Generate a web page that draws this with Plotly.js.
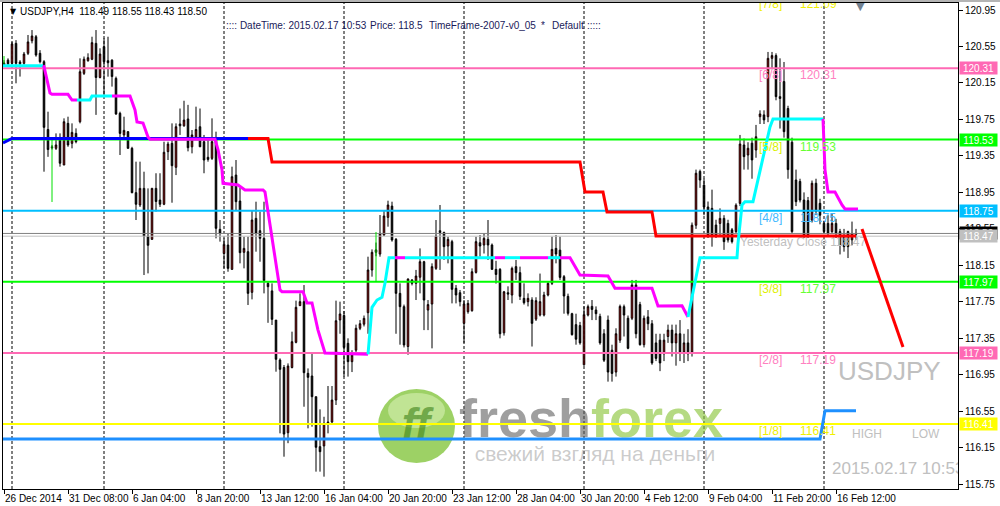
<!DOCTYPE html>
<html><head><meta charset="utf-8">
<script src="https://cdn.plot.ly/plotly-3.0.1.min.js"></script>
<style>html,body{margin:0;padding:0;background:#fff;}#chart{width:1000px;height:506px;}</style>
</head><body><div id="chart"></div>
<script>
// ---------------- DATA ----------------
const symbol = 'USDJPY,H4';
const opens = [120.35,120.40,120.365,120.584,120.38,120.365,120.475,120.613,120.657,120.475,
120.383,119.64,119.45,119.433,119.543,119.25,119.707,119.488,119.597,119.725,
120.255,120.394,120.41,120.584,120.21,120.548,120.394,120.40,120.20,119.817,
119.58,119.616,119.433,118.947,118.812,118.994,118.47,118.435,118.994,118.866,
118.82,119.397,119.488,119.225,119.70,119.68,119.755,119.45,119.532,119.67,
119.506,119.335,119.323,119.525,118.545,118.28,118.373,118.106,119.14,118.855,
118.293,118.30,117.854,118.665,118.53,118.446,117.953,117.87,117.55,117.112,
117.03,116.315,117.03,117.306,117.708,117.752,116.966,116.937,116.71,116.162,
116.17,116.42,116.432,116.673,117.551,117.60,117.295,117.094,117.22,117.46,
117.505,117.631,118.099,118.293,118.274,118.483,118.676,118.80,118.435,117.843,
117.697,117.26,117.989,117.953,118.02,118.19,117.66,117.726,118.117,118.53,
118.51,118.362,118.41,117.898,117.85,117.514,117.642,117.653,118.073,118.398,
118.373,118.435,118.373,118.106,118.106,117.41,117.85,117.825,118.136,118.07,
117.788,117.752,117.77,117.56,117.605,117.605,117.825,117.953,118.336,118.317,
118.026,117.81,117.62,117.50,117.49,117.06,117.605,117.70,117.66,117.59,
117.40,117.55,117.22,116.98,117.33,117.697,117.57,117.57,117.935,117.72,
117.28,117.585,117.51,117.30,117.33,117.18,117.37,117.44,117.30,117.40,
117.20,117.30,117.20,118.59,119.18,119.03,118.79,118.775,118.592,118.61,
118.665,118.61,118.54,118.52,118.83,119.47,119.36,119.49,119.415,119.78,
119.80,119.78,120.42,120.45,120.00,120.165,119.87,119.50,119.086,119.07,
118.866,118.86,118.647,119.05,118.83,118.61,118.61,118.52,118.61,118.52,
118.46,118.52,118.43,118.49];
const highs = [120.40,120.42,120.60,120.62,120.40,120.49,120.676,120.73,120.676,120.51,
120.40,119.835,119.47,119.597,119.597,119.762,119.78,119.707,119.652,120.42,
120.44,120.475,120.657,120.73,120.53,120.64,120.657,120.41,120.22,119.835,
119.78,119.62,119.45,119.287,119.287,119.177,118.994,119.0,119.16,119.16,
119.506,119.506,119.707,119.707,119.87,119.955,119.91,119.634,119.89,119.87,
119.58,119.525,119.762,119.616,118.647,118.446,118.50,119.232,119.305,119.0,
118.464,118.464,118.757,118.848,118.738,118.848,117.97,117.953,117.55,117.13,
117.057,117.075,117.423,117.763,117.843,117.934,117.02,117.192,116.71,116.571,
116.49,116.827,116.827,117.763,117.752,117.65,117.35,117.22,117.50,117.55,
117.60,118.245,118.325,118.40,118.702,118.757,118.859,118.848,118.45,117.953,
117.72,118.007,118.0,118.1,118.336,118.2,117.77,118.172,118.647,118.812,
118.52,118.464,118.43,117.934,117.88,117.77,117.77,118.117,118.464,118.483,
118.501,118.647,118.39,118.2,118.12,117.87,117.92,118.136,118.209,118.136,
117.953,117.843,117.80,117.80,118.06,117.86,117.97,118.464,118.483,118.464,
118.044,117.84,117.63,117.62,117.53,117.70,117.72,117.77,117.70,117.62,
117.45,117.60,117.28,117.46,117.72,117.72,117.60,117.99,117.99,117.75,
117.60,117.66,117.55,117.40,117.40,117.40,117.50,117.50,117.50,117.55,
117.40,117.45,118.62,119.20,119.20,119.10,118.85,118.98,118.65,118.775,
118.70,118.65,118.56,118.83,119.58,119.54,119.50,119.55,119.69,119.85,
119.85,120.49,120.49,120.475,120.42,120.38,119.90,119.55,119.20,119.10,
118.95,118.90,119.08,119.10,118.88,118.64,118.70,118.72,118.66,118.55,
118.55,118.53,118.63,118.55];
const lows = [120.33,120.33,120.35,120.146,120.22,120.35,120.456,120.584,120.438,120.365,
119.177,119.34,119.42,119.415,119.232,119.25,119.45,119.433,119.488,119.707,
120.237,120.383,120.40,119.80,120.20,120.0,120.219,120.11,119.80,119.36,
119.54,119.43,118.94,118.647,118.79,118.044,118.062,118.43,118.74,118.79,
118.81,119.305,118.837,119.14,119.58,119.67,119.40,119.378,119.525,119.45,
119.16,119.287,119.305,118.446,118.41,118.117,118.08,118.10,118.757,118.172,
118.117,117.715,117.777,118.30,118.19,117.843,117.52,117.496,116.984,116.308,
116.052,116.20,117.02,117.295,117.705,116.60,116.363,116.381,115.888,115.888,
115.833,116.308,116.42,116.619,117.40,116.93,116.93,116.98,117.20,117.44,
117.48,117.40,118.026,118.25,118.245,118.472,118.574,118.41,117.40,117.28,
117.25,117.17,117.93,117.77,117.843,117.44,117.44,117.24,118.1,118.1,
118.21,118.172,117.733,117.733,117.70,117.30,117.62,117.642,118.06,118.245,
118.28,118.209,118.1,117.95,117.35,117.38,117.77,117.733,117.99,117.77,
117.72,117.70,117.26,117.54,117.59,117.59,117.81,117.934,118.172,117.99,
117.62,117.60,117.38,117.28,117.28,117.05,117.59,117.55,117.55,117.28,
117.09,116.875,116.875,116.93,117.30,117.37,117.23,117.55,117.35,117.27,
117.25,117.44,117.06,117.10,116.99,117.10,117.30,117.15,117.05,117.10,
117.08,117.10,117.15,118.55,119.00,118.70,118.45,118.355,118.45,118.48,
118.32,118.40,118.39,118.50,118.80,119.20,119.20,119.10,119.33,119.70,
119.70,119.72,120.30,119.96,119.65,119.55,119.10,118.50,118.80,118.84,
118.45,118.45,118.62,118.70,118.60,118.50,118.48,118.50,118.45,118.27,
118.30,118.23,118.37,118.43];
const closes = [120.37,120.36,120.577,120.365,120.36,120.467,120.60,120.665,120.456,120.383,
119.663,119.42,119.44,119.47,119.27,119.725,119.47,119.608,119.506,120.273,
120.41,120.427,120.592,120.21,120.467,120.383,120.372,120.22,119.81,119.597,
119.63,119.433,118.947,118.82,118.994,118.47,118.37,118.994,118.85,118.82,
119.39,119.48,119.243,119.67,119.68,119.743,119.44,119.58,119.64,119.45,
119.305,119.312,119.506,118.556,118.50,118.38,118.117,119.122,118.848,118.289,
118.336,117.843,118.647,118.50,118.446,117.982,117.916,117.558,117.12,117.01,
116.30,117.046,117.313,117.69,117.752,116.973,116.922,116.71,116.155,116.107,
116.418,116.43,116.673,117.543,117.617,117.25,117.094,117.167,117.46,117.51,
117.569,118.099,118.293,118.32,118.501,118.691,118.812,118.428,117.843,117.697,
117.277,118.0,117.953,118.033,118.19,117.77,117.72,118.136,118.472,118.51,
118.355,118.435,117.887,117.825,117.752,117.726,117.733,118.08,118.41,118.362,
118.446,118.373,118.106,118.05,117.40,117.86,117.835,118.117,118.07,117.81,
117.74,117.788,117.514,117.763,117.752,117.825,117.953,118.325,118.274,118.018,
117.814,117.624,117.39,117.34,117.30,117.61,117.697,117.667,117.62,117.30,
117.11,116.98,116.965,117.40,117.70,117.605,117.24,117.935,117.40,117.28,
117.57,117.51,117.08,117.13,117.08,117.33,117.44,117.30,117.40,117.20,
117.30,117.18,118.59,119.16,119.085,118.79,118.48,118.48,118.48,118.665,
118.41,118.428,118.41,118.81,119.48,119.342,119.434,119.306,119.56,119.81,
119.745,120.42,120.45,120.00,119.98,119.616,119.20,118.52,118.848,118.866,
118.483,118.483,119.05,118.74,118.70,118.52,118.50,118.61,118.50,118.373,
118.355,118.355,118.50,118.50];

const xTickBars = [0,16,32,48,64,80,96,112,128,144,160,176,192,208];
const xTickLabels = ['26 Dec 2014','31 Dec 08:00','6 Jan 04:00','8 Jan 20:00','13 Jan 12:00','16 Jan 04:00',
  '20 Jan 20:00','23 Jan 12:00','28 Jan 04:00','30 Jan 20:00','4 Feb 12:00','9 Feb 04:00','11 Feb 20:00','16 Feb 12:00'];
const weekSeparators = [2,25,55,85,115,145,175,205];
const yTicks = [120.95,120.55,120.15,119.75,119.35,118.95,118.55,118.15,117.75,117.35,116.95,116.55,116.15,115.75];

const murreyNames = ['[7/8]','[6/8]','[5/8]','[4/8]','[3/8]','[2/8]','[1/8]'];
const murreyLevels = [121.09,120.31,119.53,118.75,117.97,117.19,116.41];
const lastPrice = 118.50;
const yesterdayClose = 118.47;

// trailing line (1 = cyan / up, 0 = magenta / down)
const trailBars = [-0.25,9.75,10,11.5,12,16,17,18.25,21.5,22,27,31.5,32.75,33.25,34.75,36,36.5,52.75,53.5,54.5,54.75,58.5,60.25,64.75,65.25,69,69.5,74.75,75.75,77,78.5,80.25,91,
  91.5,92,93.25,94.5,95.25,96,96.25,97.75,100.25,122.75,125.25,129,136,139,141.5,144,151,152.75,162,163.5,169.5,171,
  172.5,174,183.25,183.5,184.5,185.25,187.25,189,189.75,191.5,192.25,204.75,205.25,206,207.75,209.5,210.25,213.5];
const trailVals = [120.34,120.34,120.33,120.04,120.026,120.026,119.963,119.963,119.963,120.007,120.007,120.007,119.854,119.722,119.711,119.557,119.532,119.532,119.42,119.196,119.05,119.031,118.976,118.976,118.954,117.88,117.861,117.861,117.737,117.737,117.44,117.189,117.175,
  117.44,117.69,117.77,117.80,117.957,118.21,118.234,118.234,118.234,118.234,118.234,118.234,118.234,118.234,118.234,118.044,118.033,117.9,117.9,117.705,117.707,117.584,
  117.9,118.234,118.234,118.395,118.812,118.848,118.848,119.196,119.338,119.667,119.755,119.755,119.196,118.954,118.954,118.812,118.768,118.768];
const trailUp = [1,1,0,0,0,0,0,0,1,1,1,0,0,0,0,0,0,0,0,0,0,0,0,0,0,0,0,0,0,0,0,0,0,
  1,1,1,1,1,1,1,1,0,1,0,1,0,1,0,0,0,0,0,0,0,0,
  1,1,1,1,1,1,1,1,1,1,1,1,0,0,0,0,0,0];

// stepped high line (1 = blue, 0 = red)
const highLineBars = [-0.25,2,61,66,67,144,145.25,149.75,150.75,162,163,213];
const highLineVals = [119.492,119.541,119.541,119.541,119.283,119.283,118.954,118.954,118.735,118.735,118.472,118.472];
const highLineBlue = [1,1,1,0,0,0,0,0,0,0,0,0];

// stepped low line
const lowLineBars = [-0.25,204,205.25,213];
const lowLineVals = [116.246,116.246,116.556,116.556];

// signal marks
const sigBars = [0,12,93];
const sigHigh = [120.445,119.525,118.516];
const sigLow = [120.36,118.845,117.968];

// drawn forecast line
const forecastBars = [214.5,224.75];
const forecastVals = [118.549,117.255];

// ---------------- LAYOUT HELPERS ----------------
const FONT = 'Liberation Sans, Arial, sans-serif';
const W = 1000, H = 506;
const M = {l:3, r:42, t:3, b:17};
const pw = W - M.l - M.r, ph = H - M.t - M.b;
const pxPerBar = 4;
const xMin = -0.25, xMax = xMin + pw / pxPerBar;
const pxPerUnit = 91.2;
const yMax = 120.95 + 7 / pxPerUnit, yMin = yMax - ph / pxPerUnit;
const xAt = px => xMin + (px - M.l) / pxPerBar;
const yAt = py => yMax - (py - M.t) / pxPerUnit;
const pxX = px => (px - M.l) / pw;
const pxY = py => (H - M.b - py) / ph;

const murreyLine = ['#FFFF00','#FF69B4','#00FF00','#00BFFF','#00FF00','#FF69B4','#FFFF00'];
const murreyTagCol = ['#F0F000','#FF80C0','#D8F000','#40B8FF','#E0F000','#FF80C0','#F0F000'];
const murreyValCol = ['#F0F000','#FF80C0','#66FF33','#40B8FF','#66FF33','#FF80C0','#F0F000'];

const bars = opens.map((_, i) => i);
const traces = [];

// text behind candles
traces.push({type:'scatter', mode:'text', x:[xAt(740)], y:[yAt(243)], text:['Yesterday Close ' + yesterdayClose.toFixed(2)],
  textposition:'middle right', textfont:{family:FONT, size:12, color:'#C0C0C0'}, hoverinfo:'skip', cliponaxis:true});
traces.push({type:'scatter', mode:'text', x:[xAt(838), xAt(852), xAt(912), xAt(832)], y:[yAt(373), yAt(435), yAt(435), yAt(470)],
  text:['USDJPY','HIGH','LOW','2015.02.17 10:53'], textposition:'middle right',
  textfont:{family:FONT, size:[26,12,12,17], color:'#C0C0C0'}, hoverinfo:'skip', cliponaxis:true});
// watermark text
traces.push({type:'scatter', mode:'text', x:[xAt(591), xAt(595), xAt(416)], y:[yAt(423), yAt(456), yAt(428)],
  text:['<b><span style="color:rgba(95,95,95,0.6)">fresh</span><span style="color:rgba(141,198,63,0.65)">forex</span></b>',
        '<span style="color:rgba(140,140,140,0.45)">свежий взгляд на деньги</span>',
        '<b><i><span style="color:rgba(60,130,25,0.6)">ff</span></i></b>'],
  textposition:'middle center', textfont:{family:FONT, size:[54,21,44]}, hoverinfo:'skip', cliponaxis:true});

// candles
traces.push({type:'candlestick', x:bars, open:opens, high:highs, low:lows, close:closes,
  increasing:{line:{color:'#000', width:1}, fillcolor:'#FF0000'},
  decreasing:{line:{color:'#000', width:1}, fillcolor:'#000000'},
  whiskerwidth:0, hoverinfo:'skip', showlegend:false});

// price lines
traces.push({type:'scatter', mode:'lines', x:[xMin, xMax], y:[lastPrice, lastPrice], line:{color:'#808080', width:1}, hoverinfo:'skip'});
traces.push({type:'scatter', mode:'lines', x:[xMin, xMax], y:[yesterdayClose, yesterdayClose], line:{color:'#C0C0C0', width:1}, hoverinfo:'skip'});
// murrey lines
murreyLevels.forEach((lv, k) => {
  traces.push({type:'scatter', mode:'lines', x:[xMin, xMax], y:[lv, lv], line:{color:murreyLine[k], width:2}, hoverinfo:'skip'});
});
// signal marks
sigBars.forEach((b, k) => {
  traces.push({type:'scatter', mode:'lines', x:[b, b], y:[sigHigh[k], sigLow[k]], line:{color:'#00E000', width:1}, hoverinfo:'skip'});
});
// helper: split coloured polyline into segments
function segments(xs, ys, flags, colA, colB, width) {
  let cur = null;
  for (let k = 1; k < xs.length; k++) {
    const c = flags[k] ? colA : colB;
    if (!cur || cur.line.color !== c) {
      cur = {type:'scatter', mode:'lines', x:[xs[k-1]], y:[ys[k-1]], line:{color:c, width:width}, hoverinfo:'skip'};
      traces.push(cur);
    }
    cur.x.push(xs[k]); cur.y.push(ys[k]);
  }
}
segments(highLineBars, highLineVals, highLineBlue, '#0000FF', '#FF0000', 3);
traces.push({type:'scatter', mode:'lines', x:lowLineBars, y:lowLineVals, line:{color:'#1E90FF', width:3}, hoverinfo:'skip'});
segments(trailBars, trailVals, trailUp, '#00FFFF', '#FF00FF', 3);
traces.push({type:'scatter', mode:'lines', x:forecastBars, y:forecastVals, line:{color:'#FF0000', width:3}, hoverinfo:'skip', cliponaxis:false});

// murrey labels
const lblOff = 8 / pxPerUnit;
traces.push({type:'scatter', mode:'text', x:murreyLevels.map(() => xAt(759)), y:murreyLevels.map(l => l - lblOff),
  text:murreyNames, textposition:'middle right', textfont:{family:FONT, size:12, color:murreyTagCol}, hoverinfo:'skip', cliponaxis:true});
traces.push({type:'scatter', mode:'text', x:murreyLevels.map(() => xAt(800)), y:murreyLevels.map(l => l - lblOff),
  text:murreyLevels.map(l => l.toFixed(2)), textposition:'middle right', textfont:{family:FONT, size:12, color:murreyValCol}, hoverinfo:'skip', cliponaxis:true});

// ---------------- ANNOTATIONS ----------------
const ann = [];
xTickBars.forEach((b, k) => ann.push({xref:'x', yref:'paper', x:b, y:0, xanchor:'left', yanchor:'top', yshift:-2, xshift:-1,
  text:xTickLabels[k], showarrow:false, font:{family:FONT, size:10, color:'#000'}}));
// value boxes on the price scale
const boxes = murreyLevels.map((l, k) => ({v:l, c:murreyLine[k]})).filter(b => b.v < yMax && b.v > yMin);
boxes.push({v:lastPrice, c:'#000000'});
boxes.push({v:yesterdayClose, c:'#C0C0C0'});
boxes.forEach(b => ann.push({xref:'paper', yref:'y', x:1, y:b.v, xanchor:'left', yanchor:'middle', xshift:1,
  text:b.v.toFixed(2), showarrow:false, bgcolor:b.c, width:37, height:12, borderpad:0,
  font:{family:FONT, size:10, color:'#FFFFFF'}}));
const last = opens.length - 1;
ann.push({xref:'paper', yref:'paper', x:pxX(8), y:pxY(12), xanchor:'left', yanchor:'middle', showarrow:false,
  text:'▼', font:{family:'DejaVu Sans', size:8, color:'#000'}});
ann.push({xref:'paper', yref:'paper', x:pxX(18), y:pxY(12), xanchor:'left', yanchor:'middle', showarrow:false,
  text:symbol + '  ' + [opens[last], highs[last], lows[last], closes[last]].map(v => v.toFixed(2)).join(' '),
  font:{family:FONT, size:10, color:'#000'}});
[[224, ':::: DateTime: 2015.02.17 10:53'], [368, 'Price: ' + closes[last].toFixed(1)], [427, 'TimeFrame-2007-v0_05'],
 [539, '*'], [550, 'Default'], [585, ':::::']].forEach(p => ann.push({xref:'paper', yref:'paper', x:pxX(p[0]), y:pxY(25),
  xanchor:'left', yanchor:'middle', showarrow:false, text:p[1], font:{family:FONT, size:10, color:'#1A1A5A'}}));
ann.push({xref:'paper', yref:'paper', x:pxX(860), y:pxY(6), xanchor:'center', yanchor:'middle', showarrow:false,
  text:'▼', font:{family:'DejaVu Sans', size:11, color:'#708090'}});

// ---------------- SHAPES ----------------
const shapes = [];
weekSeparators.forEach(b => shapes.push({type:'line', xref:'x', yref:'paper', x0:b, x1:b, y0:0, y1:1,
  line:{color:'#000', width:1, dash:'3px,2px'}, layer:'below'}));
shapes.push({type:'circle', xref:'paper', yref:'paper', x0:pxX(378), x1:pxX(455), y0:pxY(463), y1:pxY(389),
  fillcolor:'rgba(115,190,35,0.7)', line:{width:0}, layer:'below'});
shapes.push({type:'circle', xref:'paper', yref:'paper', x0:pxX(388), x1:pxX(445), y0:pxY(428), y1:pxY(393),
  fillcolor:'rgba(215,240,180,0.6)', line:{width:0}, layer:'below'});
shapes.push({type:'rect', xref:'paper', yref:'paper', x0:-0.01, x1:1.05, y0:pxY(2), y1:pxY(-1),
  fillcolor:'#B4B4B4', line:{width:0}, layer:'above'});

const layout = {
  width:W, height:H, margin:M, showlegend:false,
  paper_bgcolor:'#FFFFFF', plot_bgcolor:'#FFFFFF',
  font:{family:FONT, size:10, color:'#000'},
  boxgap:0.45,
  xaxis:{type:'linear', range:[xMin, xMax], showgrid:false, zeroline:false, showline:true, mirror:true,
    linecolor:'#000', linewidth:1, ticks:'outside', ticklen:4, tickcolor:'#000', tickvals:xTickBars,
    showticklabels:false, rangeslider:{visible:false}, fixedrange:true},
  yaxis:{range:[yMin, yMax], side:'right', showgrid:false, zeroline:false, showline:true, mirror:true,
    linecolor:'#000', linewidth:1, ticks:'outside', ticklen:4, tickcolor:'#000', tickvals:yTicks,
    ticktext:yTicks.map(v => v.toFixed(2)), tickfont:{family:FONT, size:10, color:'#000'}, fixedrange:true},
  annotations:ann, shapes:shapes
};
Plotly.newPlot('chart', traces, layout, {displayModeBar:false, staticPlot:true});
</script></body></html>
